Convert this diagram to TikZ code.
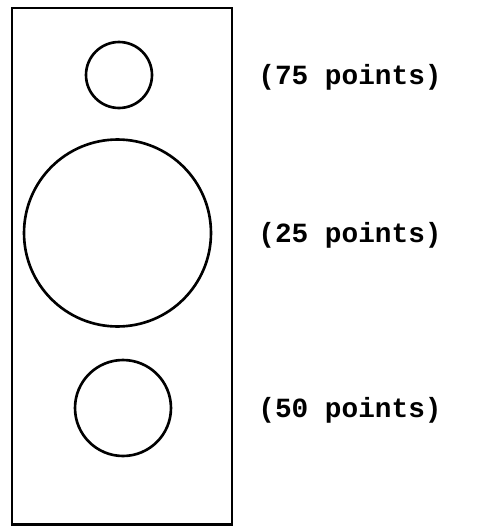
\documentclass[tikz,border=0pt]{standalone}
\usepackage{fontspec}
\setmonofont{Liberation Mono}
\usepackage{tikz}

\tikzset{
  target/.style={draw, circle, line width=1.5pt, inner sep=0pt},
  score/.style={anchor=west, font=\ttfamily\bfseries\fontsize{15.8}{18}\selectfont, inner sep=0pt}
}

\begin{document}
\begin{tikzpicture}[x=0.02cm, y=-0.02cm]
        \useasboundingbox (0,0) rectangle (496,528);
        \draw[line width=1.7pt] (12,8) rectangle (232,524);

        \node[target, minimum size=1.32cm] (c1) at (119,75) {};
        \node[target, minimum size=3.74cm] (c2) at (117.5,233) {};
        \node[target, minimum size=1.92cm] (c3) at (123,408) {};

        \node[score] (s1) at (258,77) {(75 points)};
        \node[score] (s2) at (258,235) {(25 points)};
        \node[score] (s3) at (258,410) {(50 points)};
    \end{tikzpicture}
\end{document}
